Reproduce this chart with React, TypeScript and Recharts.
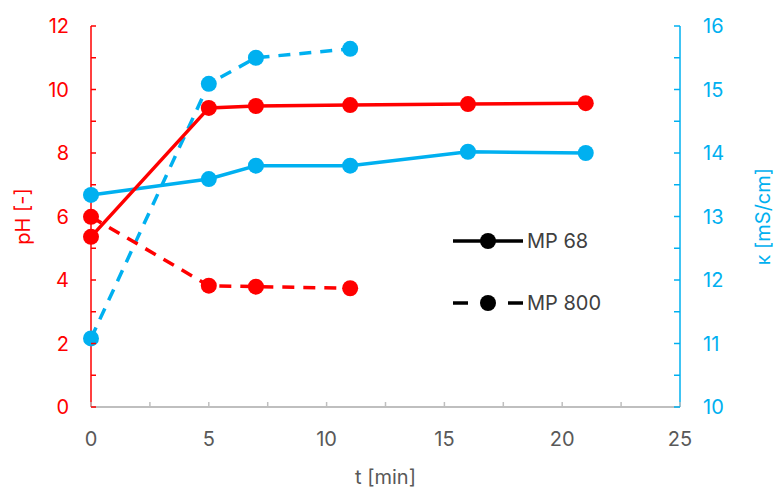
import { Label, Line, LineChart, XAxis, YAxis } from 'recharts';

const timeMp68 = [0, 5, 7, 11, 16, 21];
const timeMp800 = [0, 5, 7, 11];
const phMp68 = [5.36, 9.42, 9.48, 9.51, 9.54, 9.57];
const phMp800 = [5.99, 3.82, 3.79, 3.74];
const condMp68 = [13.34, 13.59, 13.8, 13.8, 14.02, 14.0];
const condMp800 = [11.08, 15.09, 15.5, 15.64];

const xTicks = [0, 2.5, 5, 7.5, 10, 12.5, 15, 17.5, 20, 22.5, 25];
const phTicks = [0, 1, 2, 3, 4, 5, 6, 7, 8, 9, 10, 11, 12];
const condTicks = [10, 10.5, 11, 11.5, 12, 12.5, 13, 13.5, 14, 14.5, 15, 15.5, 16];

const RED = '#ff0000';
const CYAN = '#00b0f0';
const GRAY = '#595959';
const FONT = 'Inter, sans-serif';

const mp68 = timeMp68.map((t, i) => ({ t, ph: phMp68[i], k: condMp68[i] }));
const mp800 = timeMp800.map((t, i) => ({ t, ph: phMp800[i], k: condMp800[i] }));

const LeftTick = (props: any) => {
  const { x, y, payload } = props;
  return (
    <g>
      <line x1={x} x2={x + 5} y1={y} y2={y} stroke={RED} strokeWidth={1.5} />
      {payload.value % 2 === 0 && (
        <text x={x - 22} y={y} dy="0.36em" textAnchor="end" fill={RED} fontSize={20} fontFamily={FONT}>
          {payload.value}
        </text>
      )}
    </g>
  );
};

const RightTick = (props: any) => {
  const { x, y, payload } = props;
  return (
    <g>
      <line x1={x - 6} x2={x} y1={y} y2={y} stroke={CYAN} strokeWidth={1.5} />
      {Number.isInteger(payload.value) && (
        <text x={x + 23} y={y} dy="0.36em" textAnchor="start" fill={CYAN} fontSize={20} fontFamily={FONT}>
          {payload.value}
        </text>
      )}
    </g>
  );
};

const BottomTick = (props: any) => {
  const { x, y, payload } = props;
  return (
    <g>
      <line x1={x} x2={x} y1={y - 5} y2={y} stroke="#bfbfbf" strokeWidth={1.5} />
      {payload.value % 5 === 0 && (
        <text x={x} y={y + 32} dy="0.36em" textAnchor="middle" fill={GRAY} fontSize={20} fontFamily={FONT}>
          {payload.value}
        </text>
      )}
    </g>
  );
};

// legend drawn by hand, like the spreadsheet one
const LegendBox = () => (
  <div style={{ position: 'absolute', left: 450, top: 222 }}>
    <svg width={170} height={100}>
      <line x1={3} x2={73} y1={19} y2={19} stroke="#000" strokeWidth={3.5} />
      <circle cx={38} cy={19} r={8} fill="#000" />
      <text x={77} y={19} dy="0.36em" fill="#404040" fontSize={20} fontFamily={FONT}>MP 68</text>
      <line x1={3} x2={18} y1={81} y2={81} stroke="#000" strokeWidth={3.5} />
      <line x1={58} x2={73} y1={81} y2={81} stroke="#000" strokeWidth={3.5} />
      <circle cx={38} cy={81} r={8} fill="#000" />
      <text x={77} y={81} dy="0.36em" fill="#404040" fontSize={20} fontFamily={FONT}>MP 800</text>
    </svg>
  </div>
);

export default function App() {
  return (
    <div style={{ position: 'absolute', left: 0, top: 0, width: 777, height: 488, background: '#fff' }}>
      <LineChart width={777} height={488} margin={{ top: 26, right: 0, bottom: 0, left: 0 }}>
        <XAxis
          dataKey="t"
          type="number"
          domain={[0, 25]}
          ticks={xTicks}
          interval={0}
          height={81}
          tickSize={0}
          tickMargin={0}
          tickLine={false}
          tick={BottomTick}
          axisLine={{ stroke: '#bfbfbf', strokeWidth: 2 }}
          allowDuplicatedCategory={false}
        >
          <Label value="t [min]" position="insideBottom" offset={4} fill={GRAY} fontSize={20} fontFamily={FONT} />
        </XAxis>
        <YAxis
          yAxisId="ph"
          orientation="left"
          domain={[0, 12]}
          ticks={phTicks}
          interval={0}
          width={91}
          tickSize={0}
          tickMargin={0}
          tickLine={false}
          tick={LeftTick}
          axisLine={{ stroke: RED, strokeWidth: 1.5 }}
        >
          <Label
            value="pH [-]"
            angle={-90}
            position="insideLeft"
            offset={23}
            fill={RED}
            fontSize={20}
            fontFamily={FONT}
            style={{ textAnchor: 'middle' }}
          />
        </YAxis>
        <YAxis
          yAxisId="k"
          orientation="right"
          domain={[10, 16]}
          ticks={condTicks}
          interval={0}
          width={97}
          tickSize={0}
          tickMargin={0}
          tickLine={false}
          tick={RightTick}
          axisLine={{ stroke: CYAN, strokeWidth: 1.5 }}
        >
          <Label
            value="κ [mS/cm]"
            angle={-90}
            position="insideRight"
            offset={14}
            fill={CYAN}
            fontSize={20}
            fontFamily={FONT}
            style={{ textAnchor: 'middle' }}
          />
        </YAxis>
        <Line
          data={mp68}
          yAxisId="k"
          dataKey="k"
          stroke={CYAN}
          strokeWidth={3.5}
          dot={{ r: 8, fill: CYAN, stroke: 'none' }}
          isAnimationActive={false}
        />
        <Line
          data={mp800}
          yAxisId="k"
          dataKey="k"
          stroke={CYAN}
          strokeWidth={3.5}
          strokeDasharray="12 9"
          dot={{ r: 8, fill: CYAN, stroke: 'none', strokeDasharray: '' }}
          isAnimationActive={false}
        />
        <Line
          data={mp68}
          yAxisId="ph"
          dataKey="ph"
          stroke={RED}
          strokeWidth={3.5}
          dot={{ r: 8, fill: RED, stroke: 'none' }}
          isAnimationActive={false}
        />
        <Line
          data={mp800}
          yAxisId="ph"
          dataKey="ph"
          stroke={RED}
          strokeWidth={3.5}
          strokeDasharray="12 9"
          dot={{ r: 8, fill: RED, stroke: 'none', strokeDasharray: '' }}
          isAnimationActive={false}
        />
      </LineChart>
      <LegendBox />
    </div>
  );
}
